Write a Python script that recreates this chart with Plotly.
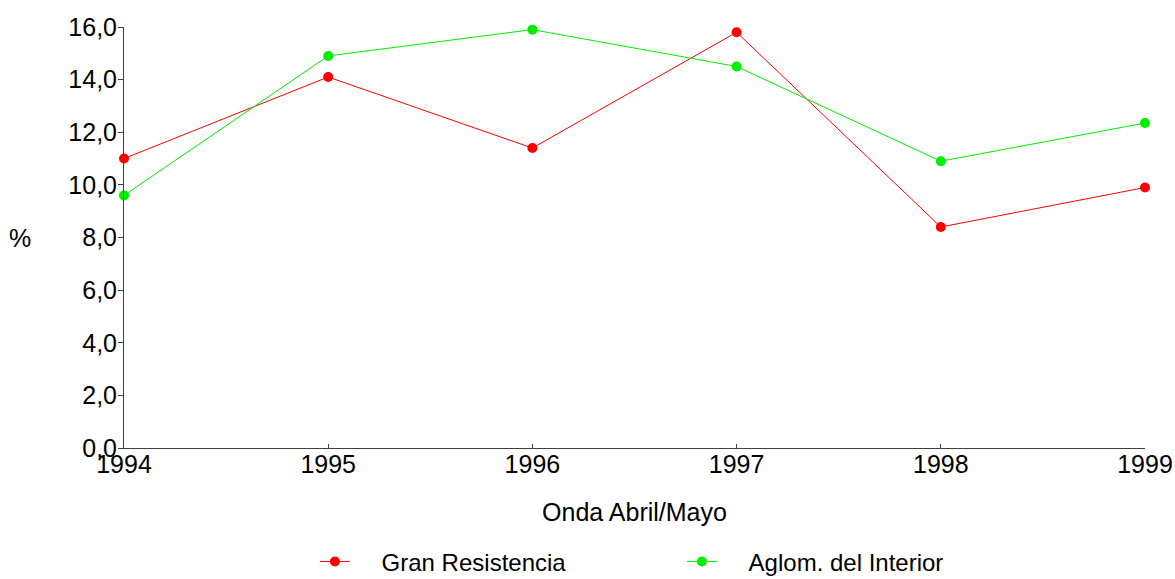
import plotly.graph_objects as go

years = [1994, 1995, 1996, 1997, 1998, 1999]
gran_resistencia = [11.0, 14.1, 11.4, 15.8, 8.4, 9.9]
aglom_interior = [9.6, 14.9, 15.9, 14.5, 10.9, 12.35]
y_ticks = [0, 2, 4, 6, 8, 10, 12, 14, 16]

FONT = "Liberation Sans, Arial, sans-serif"
SZ = 25
PAD = "\u00a0\u00a0\u00a0\u00a0"

fig = go.Figure()
fig.add_trace(go.Scatter(
    x=years, y=gran_resistencia, name=PAD + "Gran Resistencia", mode="lines+markers",
    line=dict(color="#ff0000", width=1), marker=dict(color="#ff0000", size=10),
    cliponaxis=False))
fig.add_trace(go.Scatter(
    x=years, y=aglom_interior, name=PAD + "Aglom. del Interior", mode="lines+markers",
    line=dict(color="#00ee00", width=1), marker=dict(color="#00ee00", size=10),
    cliponaxis=False))

fig.update_layout(
    width=1175, height=579,
    margin=dict(l=124, r=30, t=27, b=131, autoexpand=False),
    paper_bgcolor="white", plot_bgcolor="white",
    separators=",.",
    font=dict(family=FONT, size=SZ, color="black"),
    showlegend=True,
    legend=dict(orientation="h", x=0.187, xanchor="left", y=-0.217, yanchor="top",
                entrywidth=322, font=dict(size=24), tracegroupgap=0,
                itemsizing="trace"),
    xaxis=dict(range=[1994, 1999], tickvals=years, showgrid=False, zeroline=False,
               automargin=False,
               showline=True, linecolor="#404040", linewidth=1,
               ticks="inside", ticklen=4, tickcolor="#404040",
               tickfont=dict(size=SZ), ticklabelstandoff=-6,
               title=dict(text="Onda Abril/Mayo", font=dict(size=SZ), standoff=26)),
    yaxis=dict(range=[0, 16], tickvals=y_ticks, tickformat=".1f", showgrid=False,
               automargin=False,
               zeroline=False, showline=True, linecolor="#404040", linewidth=1,
               ticks="outside", ticklen=5, tickcolor="#404040",
               tickfont=dict(size=SZ), ticklabelstandoff=-4),
    annotations=[dict(text="%", xref="paper", yref="paper", x=-0.102, y=0.5,
                      xanchor="center", yanchor="middle", showarrow=False,
                      font=dict(size=SZ))],
)

fig.write_html("out.html", config={"displayModeBar": False},
               post_script="document.body.style.margin='0';document.body.style.overflow='hidden';")
